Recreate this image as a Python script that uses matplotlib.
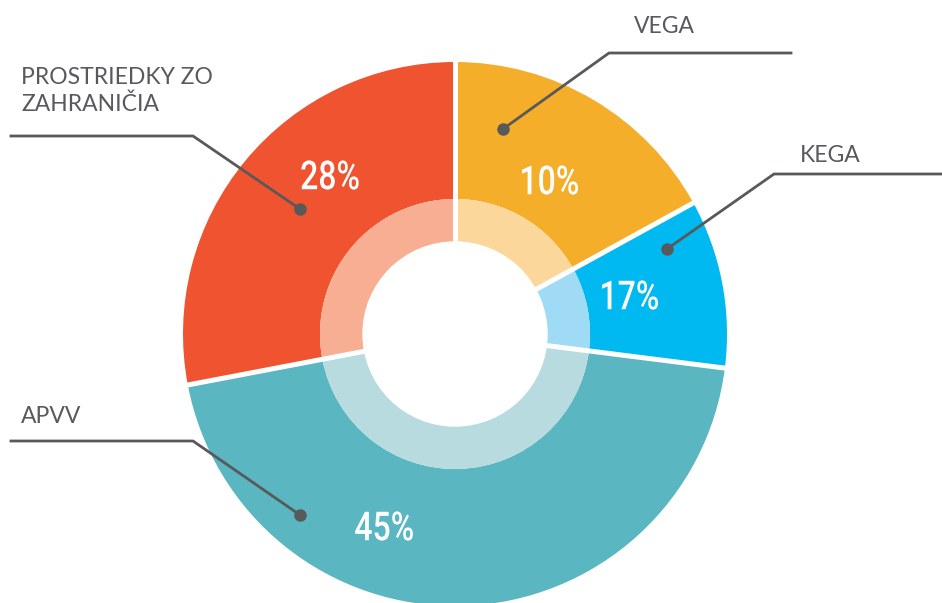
import numpy as np
import matplotlib.pyplot as plt
from matplotlib.textpath import TextPath
from matplotlib.patches import PathPatch
from matplotlib.font_manager import FontProperties
from matplotlib.transforms import Affine2D

# slice shares as drawn (clockwise from 12 o'clock) and printed percentages
names = ["VEGA", "KEGA", "APVV", "PROSTRIEDKY ZO\nZAHRANIČIA"]
shares = [17, 10, 45, 28]
pct_labels = ["10%", "17%", "45%", "28%"]

dark_colors = ["#F5AE2A", "#00B9F1", "#5AB6C1", "#EF5330"]
light_colors = ["#FBD79C", "#A0DBF6", "#B7DBDF", "#F7AE93"]

W, H = 942, 603
CX, CY = 455, H - 334
R_OUT, R_MID, R_IN = 272, 135, 92
GRAY = "#58595B"


def py(y):
    # pixel row -> data y
    return H - y


fig = plt.figure(figsize=(W / 100, H / 100), dpi=100)
ax = fig.add_axes([0, 0, 1, 1])

ax.pie(shares, radius=R_OUT, center=(CX, CY), startangle=90, counterclock=False,
       colors=dark_colors, wedgeprops=dict(width=R_OUT - R_MID, linewidth=0))
ax.pie(shares, radius=R_MID, center=(CX, CY), startangle=90, counterclock=False,
       colors=light_colors, wedgeprops=dict(linewidth=0))

# white gaps between slices
bounds = 90 - 360 * np.cumsum([0] + shares[:-1]) / sum(shares)
for a in np.radians(bounds):
    ax.plot([CX, CX + 290 * np.cos(a)], [CY, CY + 290 * np.sin(a)],
            color="white", lw=3.6, solid_capstyle="butt", zorder=3)

ax.add_patch(plt.Circle((CX, CY), R_IN, color="white", zorder=4))

# percentage labels inside the slices, squeezed to look condensed
pct_font = FontProperties(family="Roboto", weight="medium")
pct_pos = [(550, 180), (630, 295), (384, 526), (330, 175)]
for txt, (x, y) in zip(pct_labels, pct_pos):
    tp = TextPath((0, 0), txt, size=40, prop=pct_font)
    ext = tp.get_extents()
    tr = (Affine2D().translate(-(ext.x0 + ext.x1) / 2, -(ext.y0 + ext.y1) / 2)
          .scale(0.8, 1).translate(x, py(y)) + ax.transData)
    ax.add_patch(PathPatch(tp, fc="white", ec="none", transform=tr, zorder=5))

# leader lines: dot, elbow, end of horizontal
leaders = [
    [(503, 129), (609, 53), (791, 53)],
    [(667, 249), (774, 174), (942, 174)],
    [(300, 515), (193, 441), (11, 441)],
    [(300, 209), (193, 136), (11, 136)],
]
for pts in leaders:
    xs = [p[0] for p in pts]
    ys = [py(p[1]) for p in pts]
    ax.plot(xs, ys, color=GRAY, lw=2, zorder=6)
    ax.plot(xs[0], ys[0], "o", color=GRAY, ms=8, zorder=6)

# category names
name_pos = [(664, 33, "center"), (830, 162, "center"), (21, 423, "left"), (21, 111, "left")]
for name, (x, y, ha) in zip(names, name_pos):
    ax.text(x, py(y), name, color=GRAY, fontsize=16.5, ha=ha, va="baseline",
            family="Lato", linespacing=1.3, zorder=6)

ax.set_xlim(0, W)
ax.set_ylim(0, H)
ax.set_aspect("equal")
ax.axis("off")

fig.savefig("out.png", dpi=100)
